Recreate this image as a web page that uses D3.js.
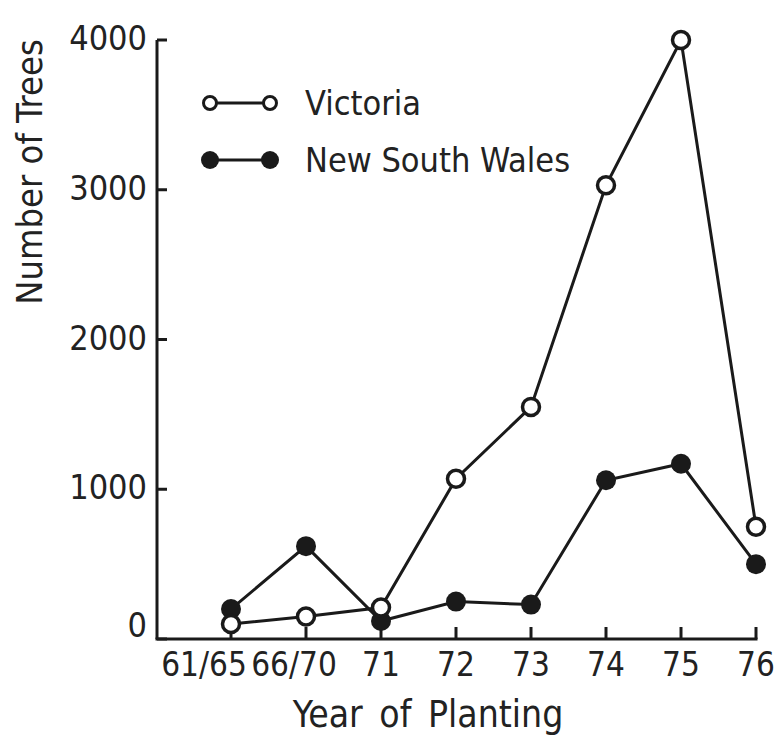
<!DOCTYPE html>
<html>
<head>
<meta charset="utf-8">
<script src="https://cdn.jsdelivr.net/npm/d3@7"></script>
<style>
  html, body { margin: 0; padding: 0; background: #fff; }
  svg text { font-family: "DejaVu Sans Condensed", "DejaVu Sans", sans-serif; font-stretch: condensed; fill: #222; }
</style>
</head>
<body>
<div id="chart"></div>
<script>
// years of planting (x categories)
const years = ["61/65", "66/70", "71", "72", "73", "74", "75", "76"];
// number of trees planted
const victoria = [100, 150, 210, 1070, 1550, 3030, 4000, 750];
const newSouthWales = [200, 620, 120, 250, 230, 1060, 1170, 500];
const yTicks = [0, 1000, 2000, 3000, 4000];

const width = 777, height = 736;

const svg = d3.select("#chart").append("svg")
    .attr("width", width)
    .attr("height", height);

const x = d3.scalePoint().domain(years).range([231, 756]);
const y = d3.scaleLinear().domain([0, 4000]).range([639, 40]);

const axisLeft = 157;
const ink = "#1a1a1a";

// Y axis: line + inward ticks
svg.append("line")
    .attr("x1", axisLeft).attr("x2", axisLeft)
    .attr("y1", y(4000)).attr("y2", y(0))
    .attr("stroke", ink).attr("stroke-width", 3);

svg.selectAll(".ytick")
    .data(yTicks)
    .enter().append("line")
    .attr("x1", axisLeft).attr("x2", axisLeft + 10)
    .attr("y1", d => y(d)).attr("y2", d => y(d))
    .attr("stroke", ink).attr("stroke-width", 3);

svg.selectAll(".ylabel")
    .data(yTicks)
    .enter().append("text")
    .attr("x", 147)
    .attr("y", d => y(d) + (d === 0 ? -2 : 10))
    .attr("text-anchor", "end")
    .style("font-size", "34px")
    .text(d => d);

// X axis: line + inward ticks
svg.append("line")
    .attr("x1", axisLeft - 1.5).attr("x2", x(years[years.length - 1]) + 1.5)
    .attr("y1", y(0)).attr("y2", y(0))
    .attr("stroke", ink).attr("stroke-width", 3);

svg.selectAll(".xtick")
    .data(years)
    .enter().append("line")
    .attr("x1", d => x(d)).attr("x2", d => x(d))
    .attr("y1", y(0)).attr("y2", y(0) - 12)
    .attr("stroke", ink).attr("stroke-width", 3);

// the two wide labels sit a little left of their ticks
const labelShift = { "61/65": -27, "66/70": -12 };
svg.selectAll(".xlabel")
    .data(years)
    .enter().append("text")
    .attr("x", d => x(d) + (labelShift[d] || 0))
    .attr("y", 676)
    .attr("text-anchor", "middle")
    .style("font-size", "33px")
    .text(d => d);

// axis titles
svg.append("text")
    .attr("transform", "translate(42,172) rotate(-90)")
    .attr("text-anchor", "middle")
    .style("font-size", "36px")
    .text("Number of Trees");

svg.append("text")
    .attr("x", 428).attr("y", 727)
    .attr("text-anchor", "middle")
    .style("font-size", "37px")
    .style("word-spacing", "6px")
    .text("Year of Planting");

// series lines
const line = d3.line()
    .x((d, i) => x(years[i]))
    .y(d => y(d));

svg.append("path")
    .datum(newSouthWales)
    .attr("d", line)
    .attr("fill", "none")
    .attr("stroke", ink)
    .attr("stroke-width", 3);

svg.append("path")
    .datum(victoria)
    .attr("d", line)
    .attr("fill", "none")
    .attr("stroke", ink)
    .attr("stroke-width", 3);

// markers
svg.selectAll(".nsw")
    .data(newSouthWales)
    .enter().append("circle")
    .attr("cx", (d, i) => x(years[i]))
    .attr("cy", d => y(d))
    .attr("r", 10)
    .attr("fill", ink);

svg.selectAll(".vic")
    .data(victoria)
    .enter().append("circle")
    .attr("cx", (d, i) => x(years[i]))
    .attr("cy", d => y(d))
    .attr("r", 8.5)
    .attr("fill", "#fff")
    .attr("stroke", ink)
    .attr("stroke-width", 3.5);

// legend
const legend = svg.append("g");
const legendItems = [
    { label: "Victoria", filled: false, cy: 103 },
    { label: "New South Wales", filled: true, cy: 160 }
];
legendItems.forEach(item => {
    legend.append("line")
        .attr("x1", 210).attr("x2", 270)
        .attr("y1", item.cy).attr("y2", item.cy)
        .attr("stroke", ink).attr("stroke-width", 3);
    [210, 270].forEach(cx => {
        legend.append("circle")
            .attr("cx", cx).attr("cy", item.cy)
            .attr("r", item.filled ? 9 : 6.5)
            .attr("fill", item.filled ? ink : "#fff")
            .attr("stroke", ink)
            .attr("stroke-width", item.filled ? 0 : 3);
    });
    legend.append("text")
        .attr("x", 305).attr("y", item.cy + 12)
        .style("font-size", "34px")
        .text(item.label);
});
</script>
</body>
</html>
